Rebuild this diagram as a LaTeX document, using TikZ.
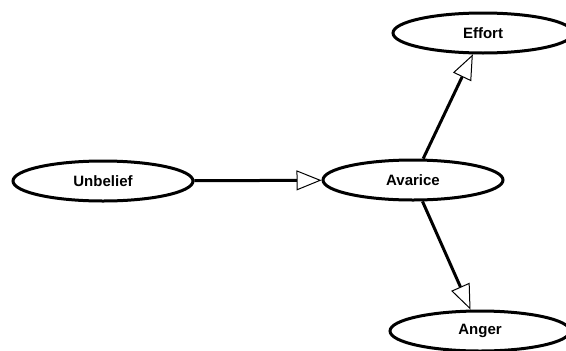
\documentclass[tikz,border=0pt]{standalone}
\usepackage{fontspec}
\setmainfont{Liberation Sans}
\usetikzlibrary{shapes.geometric,arrows.meta}
\begin{document}
\begin{tikzpicture}[x=0.75pt,y=-0.75pt,
  concept/.style={draw=black, line width=2.25pt, ellipse, inner sep=0pt,
    minimum width=135pt, minimum height=30pt, fill=white,
    font=\fontsize{11.25}{13}\selectfont\bfseries},
  link/.style={draw=black, line width=2.25pt,
    -{Triangle[fill=white, line width=0.75pt, length=18.75pt, width=15pt]}}]
\useasboundingbox (0,0) rectangle (566,350);
\node[concept] (unbelief) at (103,181) {Unbelief};
\node[concept] (avarice) at (413,180) {Avarice};
\node[concept] (effort) at (483,33) {Effort};
\node[concept] (anger) at (480,331) {Anger};
\draw[link] (unbelief) -- (avarice);
\draw[link] (avarice) -- (effort);
\draw[link] (avarice) -- (anger);
\end{tikzpicture}
\end{document}
